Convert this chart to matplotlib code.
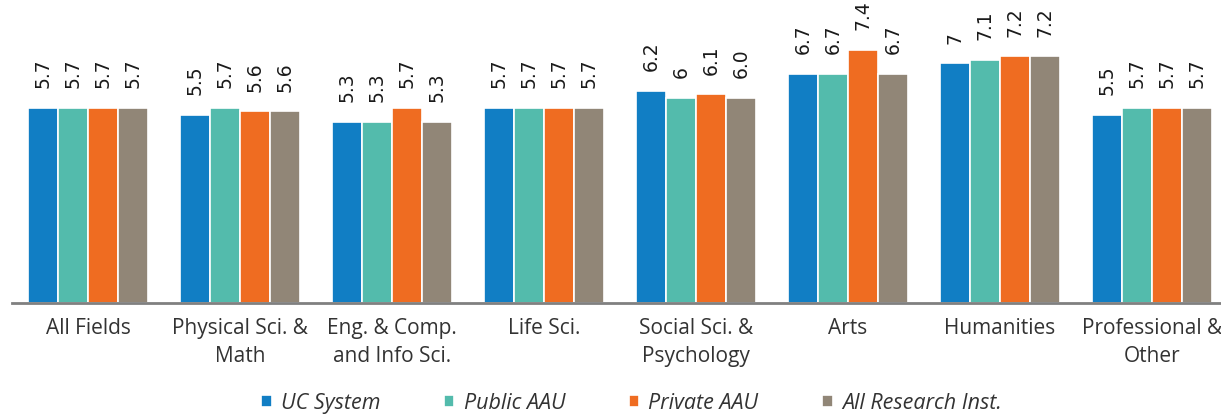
import matplotlib
matplotlib.use('Agg')
import matplotlib.pyplot as plt
import numpy as np

# Data --------------------------------------------------------------------------
categories = ['All Fields', 'Physical Sci. &\nMath', 'Eng. & Comp.\nand Info Sci.', 'Life Sci.',
              'Social Sci. &\nPsychology', 'Arts', 'Humanities', 'Professional &\nOther']
series = ['UC System', 'Public AAU', 'Private AAU', 'All Research Inst.']

uc_system = [5.7, 5.5, 5.3, 5.7, 6.2, 6.7, 7.0, 5.5]
public_aau = [5.7, 5.7, 5.3, 5.7, 6.0, 6.7, 7.1, 5.7]
private_aau = [5.7, 5.6, 5.7, 5.7, 6.1, 7.4, 7.2, 5.7]
all_research = [5.7, 5.6, 5.3, 5.7, 6.0, 6.7, 7.2, 5.7]

# labels as printed on the chart (some show "6" / "7", others "6.0")
uc_labels = ['5.7', '5.5', '5.3', '5.7', '6.2', '6.7', '7', '5.5']
public_labels = ['5.7', '5.7', '5.3', '5.7', '6', '6.7', '7.1', '5.7']
private_labels = ['5.7', '5.6', '5.7', '5.7', '6.1', '7.4', '7.2', '5.7']
all_labels = ['5.7', '5.6', '5.3', '5.7', '6.0', '6.7', '7.2', '5.7']

colors = ['#117EC4', '#53BBAC', '#EF6C21', '#918677']

# Plot ---------------------------------------------------------------------------
fig = plt.figure(figsize=(12.21, 4.15), dpi=100)
ax = fig.add_axes([12 / 1221, 112 / 415, 1209 / 1221, 303 / 415])

x = np.arange(len(categories))
width = 0.197
values = [uc_system, public_aau, private_aau, all_research]
labels = [uc_labels, public_labels, private_labels, all_labels]

handles = []
for i in range(len(series)):
    offset = (i - 1.5) * width
    bars = ax.bar(x + offset, values[i], width, color=colors[i], edgecolor='white',
                  linewidth=1.2, label=series[i])
    handles.append(bars)
    for b, txt in zip(bars, labels[i]):
        ax.annotate(txt, (b.get_x() + b.get_width() / 2, b.get_height()),
                    xytext=(0, 14), textcoords='offset points', rotation=90,
                    ha='center', va='bottom', fontsize=13.5, color='#1a1a1a',
                    family='DejaVu Sans')

ax.set_xlim(-0.5, 7.454)
ax.set_ylim(0, 8.85)
ax.set_xticks(x)
ax.set_xticklabels(categories, family='Open Sans', fontsize=15, color='#333333',
                   linespacing=1.45)
ax.tick_params(axis='x', length=0, pad=10.5)
ax.set_yticks([])
for side in ['top', 'left', 'right']:
    ax.spines[side].set_visible(False)
ax.spines['bottom'].set_color('#808080')
ax.spines['bottom'].set_linewidth(2)

fig.legend(handles=handles, labels=series, loc='center', bbox_to_anchor=(0.517, 0.028),
           ncol=4, frameon=False, handlelength=0.5, handleheight=0.5, handletextpad=0.42,
           columnspacing=2.95, prop={'family': 'Open Sans', 'style': 'italic', 'size': 15.5},
           labelcolor='#333333')

plt.savefig('out.png', dpi=100)
